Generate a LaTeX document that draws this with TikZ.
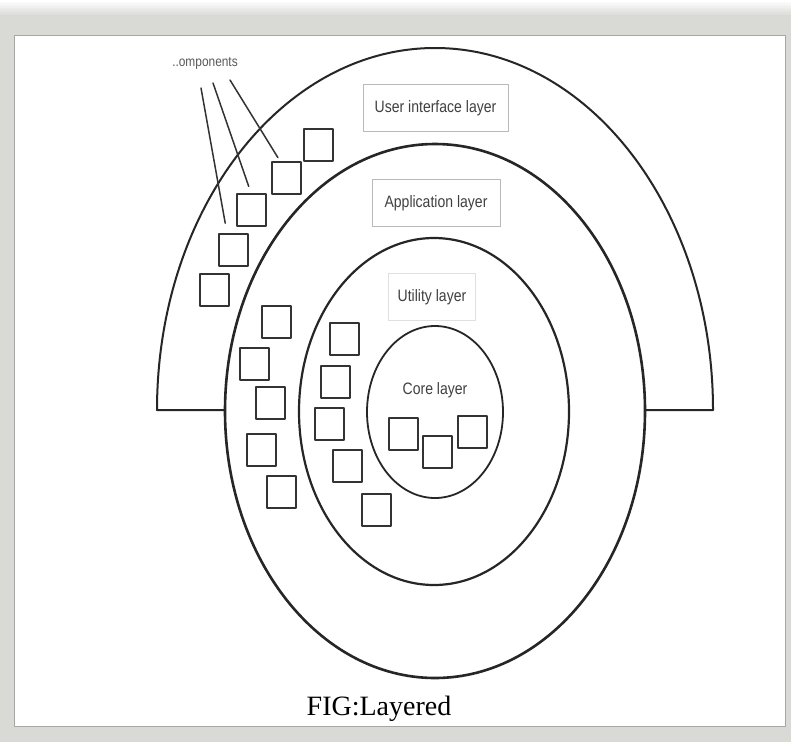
\documentclass[tikz,border=0pt]{standalone}
\usepackage{fontspec}
\setmainfont{Liberation Serif}
\newfontfamily\labelfont{Liberation Sans}[FakeStretch=0.85]
\definecolor{framegray}{HTML}{D9D9D5}
\tikzset{
	comp/.style={draw=black!80, fill=white, line width=2pt, minimum width=29pt, minimum height=32pt, inner sep=0pt},
	layerbox/.style={draw=gray!55, line width=1pt, minimum height=47pt, inner sep=0pt, font=\labelfont\fontsize{16.5}{19}\selectfont, text=black!75},
	leader/.style={line width=1.5pt, draw=black!80},
}
\begin{document}
\begin{tikzpicture}[x=1pt, y=-1pt, line join=round, line cap=round]
	\useasboundingbox (0,0) rectangle (791,742);
	% window frame
	\fill[framegray] (0,0) rectangle (791,742);
	\foreach \i in {0,...,9} \fill[framegray!\i0] (0,\i*1.5) rectangle (791,\i*1.5+1.6);
	\fill[white, draw=gray!70, line width=1pt] (14,35) rectangle (785,726);
	% layers
	\draw[line width=2pt, black!85] (225,410) -- (157,410) arc[start angle=180, end angle=360, x radius=278, y radius=362] -- (645,410);
	\draw[line width=2.6pt, black!85] (435,411) ellipse [x radius=210, y radius=267];
	\draw[line width=2.2pt, black!85] (434,411.5) ellipse [x radius=135, y radius=173.5];
	\draw[line width=1.8pt, black!85] (435,412) ellipse [x radius=68, y radius=86];
	\node[layerbox, minimum width=145pt] (ui) at (435.5,108) {User interface layer};
	\node[layerbox, minimum width=128pt] (app) at (436,203) {Application layer};
	\node[layerbox, draw=gray!25, minimum width=87pt] (util) at (432,297) {Utility layer};
	\node[font=\labelfont\fontsize{16.5}{19}\selectfont, text=black!75] (core) at (435,390) {Core layer};
	% components
	\foreach \n/\x/\y in {a/318/145, b/286/178, c/251/210, d/233/250, e/214/290,
		f/276/322, g/254/364, h/270/403, i/261/450, j/281/492,
		k/344/339, l/335/382, m/329/424, n/347/466, o/376/510,
		p/403/434, q/437/452, r/472/432}
		\node[comp] (\n) at (\x,\y) {};
	\node[anchor=base, font=\labelfont\fontsize{14}{16}\selectfont, text=black!65] (lbl) at (205,66) {..omponents};
	\coordinate (lead1) at (201,88);
	\coordinate (lead2) at (213,83);
	\coordinate (lead3) at (230,80);
	\draw[leader, shorten >=10pt] (lead1) -- ([xshift=-6pt]d.north);
	\draw[leader, shorten >=7pt] (lead2) -- (c.north);
	\draw[leader, shorten >=4pt] (lead3) -- ([xshift=-6pt]b.north);
	\node[anchor=base, font=\fontsize{28}{32}\selectfont] (cap) at (379,715) {FIG:Layered};
\end{tikzpicture}
\end{document}
